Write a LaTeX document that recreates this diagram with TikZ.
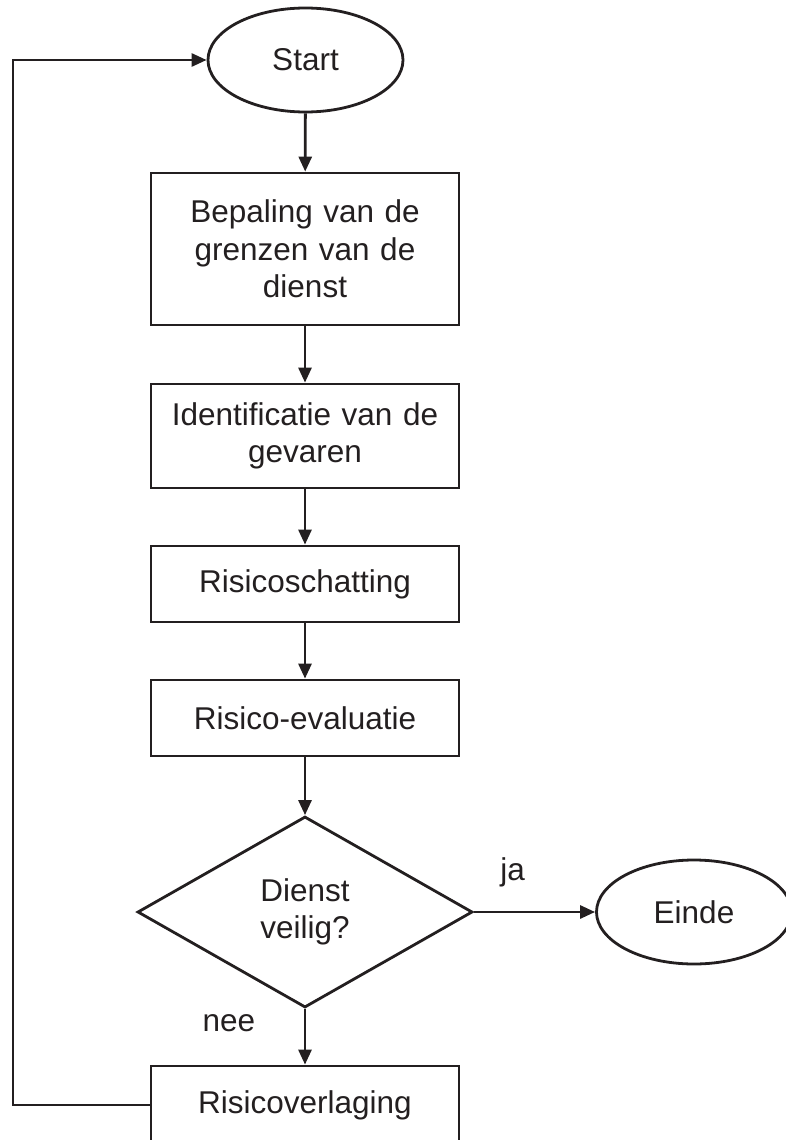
\documentclass[tikz,border=0pt]{standalone}
\usepackage{fontspec}
\setmainfont{Liberation Sans}
\usetikzlibrary{shapes.geometric,arrows.meta}
\definecolor{ink}{HTML}{231F20}
\begin{document}
\begin{tikzpicture}[x=1pt,y=-1pt,
  every node/.style={text=ink, font=\fontsize{31.5}{37.5}\selectfont},
  box/.style={draw=ink, line width=2.8pt, rectangle, minimum width=308pt, align=center, text width=296pt, inner sep=0pt},
  term/.style={draw=ink, line width=2.8pt, ellipse, minimum width=195pt, minimum height=104pt, inner sep=0pt},
  decide/.style={draw=ink, line width=2.8pt, diamond, shape aspect=1.75, minimum width=335pt, minimum height=191pt, inner sep=0pt, align=center},
  arr/.style={draw=ink, line width=2.8pt, -{Triangle[length=15pt,width=13pt]}},
  lbl/.style={anchor=base}]
\useasboundingbox (0,0) rectangle (785,1140);
\node[term] (start) at (305.5,60) {Start};
\node[box, minimum height=152pt] (b1) at (305,249) {Bepaling van de\\grenzen van de\\dienst};
\node[box, minimum height=104pt] (b2) at (305,436) {Identificatie van de\\gevaren};
\node[box, minimum height=76pt] (b3) at (305,584) {Risicoschatting};
\node[box, minimum height=76pt] (b4) at (305,718) {Risico-evaluatie};
\node[decide] (dia) at (305,912) {Dienst\\veilig?};
\node[term] (einde) at (694,912) {Einde};
\node[box, minimum height=78pt] (verl) at (305,1105) {Risicoverlaging};
\coordinate (lx) at (13,0);
\draw[arr] (start) -- (b1);
\draw[arr] (b1) -- (b2);
\draw[arr] (b2) -- (b3);
\draw[arr] (b3) -- (b4);
\draw[arr] (b4) -- (dia);
\draw[arr] (dia.east) -- node[pos=0.32, anchor=base, yshift=32pt] (ja) {ja} (einde.west);
\draw[arr] (dia.south) -- node[pos=0.4, anchor=base east, xshift=-45pt] (nee) {nee} (verl.north);
\draw[arr] (verl.west) -- (verl.west -| lx) |- (start.west);
\end{tikzpicture}
\end{document}
